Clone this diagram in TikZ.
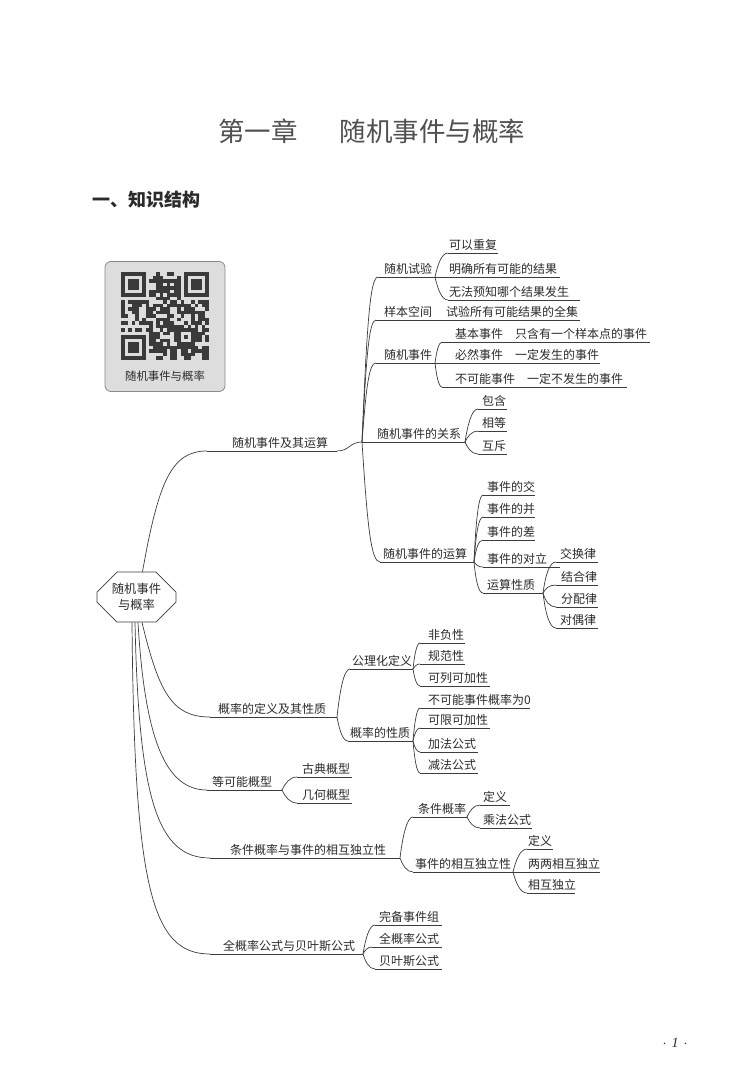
\documentclass[tikz,border=0pt]{standalone}
\usepackage{fontspec}
\setmainfont{Liberation Serif}
\newfontfamily\cjk{Noto Sans CJK SC}
\usetikzlibrary{shapes.misc,calc}
\definecolor{ln}{HTML}{3C3C3C}
\definecolor{txt}{HTML}{2B2B2B}
\definecolor{boxfill}{HTML}{DDDDDD}
\definecolor{boxdraw}{HTML}{8A8A8A}
\definecolor{qrc}{HTML}{3A3A3A}
\definecolor{titlec}{HTML}{505050}
\newcommand\mmitem[6]{%
  \coordinate (#1s) at (#2,#4);
  \coordinate (#1e) at (#3,#4);
  \node[lab] (#1) at (#5,{#4-3.5}) {#6};
  \draw[br] (#1s) -- (#1e);}
\newcommand\mmconn[5]{%
  \draw[br] let \p1=(#1), \p2=(#2) in (\p1) .. controls ({\x1+#3*(\x2-\x1)},{\y1+#4*(\y2-\y1)}) and ({\x1+#5*(\x2-\x1)},\y2) .. (\p2);}
\newcommand\qrfinder[2]{%
  \fill[qrc] ({#1*3.5},{#2*3.5}) rectangle ++(24.5,24.5);
  \fill[boxfill] ({(#1+1)*3.5},{(#2+1)*3.5}) rectangle ++(17.5,17.5);
  \fill[qrc] ({(#1+2)*3.5},{(#2+2)*3.5}) rectangle ++(10.5,10.5);}
\begin{document}
\begin{tikzpicture}[x=1pt,y=-1pt,
  br/.style={draw=ln,line width=0.7pt},
  lab/.style={anchor=base west,inner sep=0pt,text=txt,font=\cjk\fontsize{12}{12}\selectfont}]
\useasboundingbox (0,0) rectangle (745,1090);
\fill[white] (0,0) rectangle (745,1090);

% title and heading
\node[anchor=west,inner sep=0pt,text=titlec,font=\cjk\fontsize{26.5}{26.5}\selectfont] (title) at (218,131) {第一章\hspace{42pt}随机事件与概率};
\node[anchor=west,inner sep=0pt,text=txt,font=\cjk\bfseries\fontsize{18}{18}\selectfont] (head) at (92,200) {一、知识结构};

% QR box
\node[draw=boxdraw,fill=boxfill,rounded corners=6pt,line width=0.8pt,minimum width=120pt,minimum height=130pt,inner sep=0pt] (qrbox) at (165,326.5) {};
\begin{scope}[shift={(121,272)}]
  \pgfmathsetseed{4242}
  \foreach \i in {0,...,24}{\foreach \j in {0,...,24}{
    \pgfmathrandominteger{\r}{0}{9}
    \ifnum\r>3 \fill[qrc] ({\i*3.5},{\j*3.5}) rectangle ++(3.5,3.5);\fi
  }}
  \fill[boxfill] (0,0) rectangle (28,28);
  \fill[boxfill] (59.5,0) rectangle (87.5,28);
  \fill[boxfill] (0,59.5) rectangle (28,87.5);
  \qrfinder{0}{0}
  \qrfinder{18}{0}
  \qrfinder{0}{18}
  \fill[qrc] (56,56) rectangle ++(17.5,17.5);
  \fill[boxfill] (59.5,59.5) rectangle ++(10.5,10.5);
  \fill[qrc] (63,63) rectangle ++(3.5,3.5);
\end{scope}
\node[inner sep=0pt,text=txt,font=\cjk\fontsize{11.4}{11.4}\selectfont] (qrcap) at (165,376) {随机事件与概率};

% root
\node[draw=ln,line width=0.7pt,chamfered rectangle,chamfered rectangle xsep=9pt,chamfered rectangle ysep=11pt,minimum width=79pt,minimum height=50pt,inner sep=0pt,align=center,text=txt,font=\cjk\fontsize{12.3}{16}\selectfont] (root) at (136.5,597) {随机事件\\与概率};

% ---- branch A
\mmitem{A}{207}{337}{451}{232}{随机事件及其运算}
\coordinate (J1) at (362,442);
\mmconn{[xshift=6pt]root.north}{As}{0.25}{0.75}{0.45}
\mmconn{Ae}{J1}{0.5}{0}{0.5}
\mmitem{Aa}{378}{435}{277}{384}{随机试验}
\mmitem{Aaa}{448}{498}{253}{449}{可以重复}
\mmitem{Aab}{435}{560}{277}{449}{明确所有可能的结果}
\mmitem{Aac}{448}{580}{300}{449}{无法预知哪个结果发生}
\mmitem{Ab}{376}{580}{320}{384}{样本空间}
\node[lab] (Abt) at (446,316.5) {试验所有可能结果的全集};
\mmitem{Ac}{376}{435}{363}{384}{随机事件}
\mmitem{Aca}{442}{650}{342}{455}{基本事件\quad 只含有一个样本点的事件}
\mmitem{Acb}{435}{600}{363}{455}{必然事件\quad 一定发生的事件}
\mmitem{Acc}{442}{627}{387}{455}{不可能事件\quad 一定不发生的事件}
\mmitem{Ad}{362}{465}{442}{377}{随机事件的关系}
\mmitem{Ada}{478}{507}{409}{482}{包含}
\mmitem{Adb}{478}{507}{431}{482}{相等}
\mmitem{Adc}{478}{507}{454}{482}{互斥}
\mmitem{Ae2}{380}{474}{562}{383}{随机事件的运算}
\mmitem{Aea}{483}{535}{495}{487}{事件的交}
\mmitem{Aeb}{483}{535}{517}{487}{事件的并}
\mmitem{Aec}{483}{535}{540}{487}{事件的差}
\mmitem{Aed}{483}{560}{567}{487}{事件的对立}
\mmitem{Aee}{483}{543}{593}{487}{运算性质}
\mmitem{Aeea}{556}{598}{562}{560}{交换律}
\mmitem{Aeeb}{556}{598}{585}{561}{结合律}
\mmitem{Aeec}{556}{598}{607}{561}{分配律}
\mmitem{Aeed}{556}{598}{628}{560}{对偶律}
\mmconn{J1}{Aas}{0.3}{0.7}{0.5}
\mmconn{J1}{Abs}{0.3}{0.7}{0.5}
\mmconn{J1}{Acs}{0.3}{0.7}{0.5}
\mmconn{J1}{Ae2s}{0.3}{0.7}{0.5}
\mmconn{Aae}{Aaas}{0.2}{0.5}{0.5}
\mmconn{Aae}{Aacs}{0.2}{0.5}{0.5}
\mmconn{Ace}{Acas}{0.2}{0.5}{0.5}
\mmconn{Ace}{Accs}{0.2}{0.5}{0.5}
\mmconn{Ade}{Adas}{0.2}{0.5}{0.5}
\mmconn{Ade}{Adbs}{0.2}{0.5}{0.5}
\mmconn{Ade}{Adcs}{0.2}{0.5}{0.5}
\mmconn{Ae2e}{Aeas}{0.2}{0.6}{0.5}
\mmconn{Ae2e}{Aebs}{0.2}{0.6}{0.5}
\mmconn{Ae2e}{Aecs}{0.2}{0.6}{0.5}
\mmconn{Ae2e}{Aeds}{0.2}{0.6}{0.5}
\mmconn{Ae2e}{Aees}{0.2}{0.6}{0.5}
\mmconn{Aeee}{Aeeas}{0.2}{0.6}{0.5}
\mmconn{Aeee}{Aeebs}{0.2}{0.6}{0.5}
\mmconn{Aeee}{Aeecs}{0.2}{0.6}{0.5}
\mmconn{Aeee}{Aeeds}{0.2}{0.6}{0.5}

% ---- branch B
\mmitem{B}{210}{337}{717}{218}{概率的定义及其性质}
\mmconn{[xshift=5.5pt]root.south}{Bs}{0.25}{0.75}{0.45}
\mmitem{Ba}{350}{413}{669}{352}{公理化定义}
\mmitem{Baa}{420}{465}{643}{428}{非负性}
\mmitem{Bab}{420}{465}{664}{428}{规范性}
\mmitem{Bac}{420}{490}{686}{428}{可列可加性}
\mmitem{Bb}{348}{413}{741}{350}{概率的性质}
\mmitem{Bba}{420}{530}{708}{428}{不可能事件概率为0}
\mmitem{Bbb}{420}{490}{728}{428}{可限可加性}
\mmitem{Bbc}{420}{478}{752}{428}{加法公式}
\mmitem{Bbd}{420}{478}{773}{428}{减法公式}
\mmconn{Be}{Bas}{0.2}{0.5}{0.5}
\mmconn{Be}{Bbs}{0.2}{0.5}{0.5}
\mmconn{Bae}{Baas}{0.2}{0.5}{0.5}
\mmconn{Bae}{Babs}{0.2}{0.5}{0.5}
\mmconn{Bae}{Bacs}{0.2}{0.5}{0.5}
\mmconn{Bbe}{Bbas}{0.2}{0.5}{0.5}
\mmconn{Bbe}{Bbbs}{0.2}{0.5}{0.5}
\mmconn{Bbe}{Bbcs}{0.2}{0.5}{0.5}
\mmconn{Bbe}{Bbds}{0.2}{0.5}{0.5}

% ---- branch C
\mmitem{C}{207}{282}{790}{212}{等可能概型}
\mmconn{[xshift=1.5pt]root.south}{Cs}{0.1}{0.7}{0.4}
\mmitem{Ca}{297}{352}{777}{302}{古典概型}
\mmitem{Cb}{297}{352}{803}{302}{几何概型}
\mmconn{Ce}{Cas}{0.2}{0.5}{0.5}
\mmconn{Ce}{Cbs}{0.2}{0.5}{0.5}

% ---- branch D
\mmitem{D}{210}{400}{858}{230}{条件概率与事件的相互独立性}
\mmconn{[xshift=-1.5pt]root.south}{Ds}{0.05}{0.75}{0.3}
\mmitem{Da}{413}{467}{817}{418}{条件概率}
\mmitem{Daa}{480}{510}{805}{483}{定义}
\mmitem{Dab}{480}{532}{828}{483}{乘法公式}
\mmitem{Db}{413}{513}{872}{415}{事件的相互独立性}
\mmitem{Dba}{527}{553}{849}{528}{定义}
\mmitem{Dbb}{513}{600}{872}{528}{两两相互独立}
\mmitem{Dbc}{527}{575}{893}{528}{相互独立}
\mmconn{De}{Das}{0.2}{0.5}{0.5}
\mmconn{De}{Dbs}{0.2}{0.5}{0.5}
\mmconn{Dae}{Daas}{0.2}{0.5}{0.5}
\mmconn{Dae}{Dabs}{0.2}{0.5}{0.5}
\mmconn{Dbe}{Dbas}{0.2}{0.5}{0.5}
\mmconn{Dbe}{Dbcs}{0.2}{0.5}{0.5}

% ---- branch E
\mmitem{E}{210}{363}{954}{223}{全概率公式与贝叶斯公式}
\mmconn{[xshift=-4.5pt]root.south}{Es}{0.03}{0.8}{0.25}
\mmitem{Ea}{375}{442}{925}{379}{完备事件组}
\mmitem{Eb}{372}{442}{947}{379}{全概率公式}
\mmitem{Ec}{375}{442}{969}{379}{贝叶斯公式}
\mmconn{Ee}{Eas}{0.2}{0.5}{0.5}
\mmconn{Ee}{Ebs}{0.2}{0.5}{0.5}
\mmconn{Ee}{Ecs}{0.2}{0.5}{0.5}

% page number
\node[inner sep=0pt,text=txt,font=\fontsize{14}{14}\selectfont] (pg) at (675,1043) {$\cdot$\hspace{5pt}\textit{1}\hspace{5pt}$\cdot$};
\end{tikzpicture}
\end{document}
